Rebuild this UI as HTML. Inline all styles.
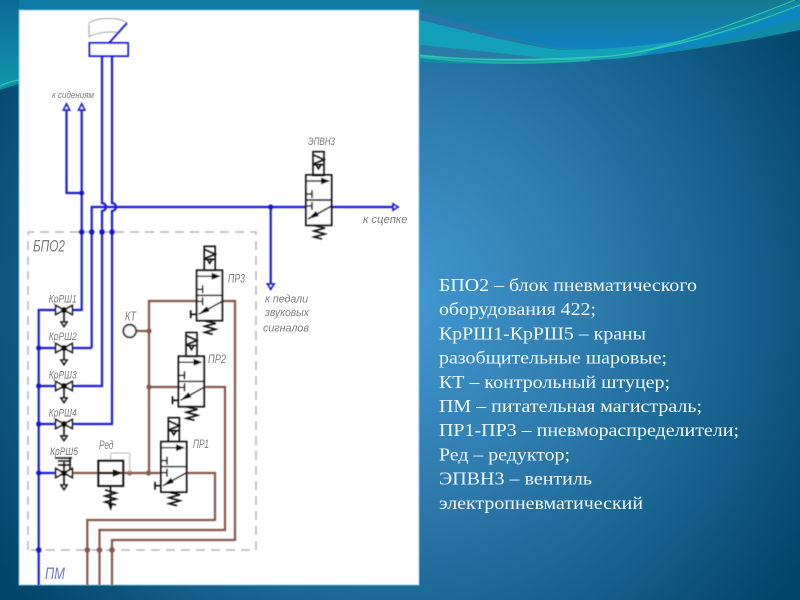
<!DOCTYPE html>
<html lang="ru"><head><meta charset="utf-8"><title>БПО2</title>
<style>
html,body{margin:0;padding:0;background:#0e5f88}
body{width:800px;height:600px;overflow:hidden}
svg{display:block}
text{font-family:"Liberation Sans","DejaVu Sans",sans-serif}
.l{font-style:italic;fill:#7c7c7c;font-size:11px}
.t{font-family:"Liberation Serif","Noto Serif CJK SC",serif;font-size:18px;fill:#f2f8fb}
</style></head><body>
<svg width="800" height="600" viewBox="0 0 800 600" xmlns="http://www.w3.org/2000/svg">
<defs>
<radialGradient id="bg" gradientUnits="userSpaceOnUse" cx="400" cy="300" r="480">
<stop offset="0" stop-color="#4299d2"/><stop offset=".35" stop-color="#327fb2"/><stop offset=".7" stop-color="#16628f"/><stop offset="1" stop-color="#03456a"/>
</radialGradient>
<linearGradient id="top" x1="0" y1="0" x2="0" y2="1"><stop offset="0" stop-color="#17798f"/><stop offset="1" stop-color="#0f80c0"/></linearGradient>
<linearGradient id="ls" x1="0" y1="0" x2="0" y2="1"><stop offset="0" stop-color="#0c6a94"/><stop offset="1" stop-color="#1196ab"/></linearGradient>
<filter id="b" x="-5%" y="-5%" width="110%" height="110%"><feGaussianBlur stdDeviation="0.4"/></filter>
<filter id="b2" x="-5%" y="-5%" width="110%" height="110%"><feGaussianBlur stdDeviation="0.3"/></filter>
<g id="sol" fill="none" stroke="#111" stroke-width="1.600">
<rect x="0" y="0" width="11" height="24"/><path d="M0 13H11M0 3 L11 8 L1 12 M3 13 L5.500 17 L8 13Z"/>
</g>
<g id="v" fill="none" stroke="#111">
<rect x="0" y="0" width="25.600" height="50.300" fill="#fff" stroke-width="1.900"/>
<path d="M0 25H25.600" stroke-width="1.700"/>
<path d="M0 6H23" stroke-width="1.500"/><path d="M24 6L15 2.500V9.500Z" fill="#111" stroke="none"/>
<path d="M0 19H6M6 15V23M0 31H6M6 27V35" stroke-width="1.600"/>
<path d="M25.600 31L2 44" stroke-width="1.600"/><path d="M2 44L10 36L13 41Z" fill="#111" stroke="none"/>
<path d="M8 50.500L19 53L8 56L19 59L8 62L16 64" stroke-width="1.600"/>
</g>
<g id="t"><path d="M-6 44H0M-6 40V48" fill="none" stroke="#111" stroke-width="1.700"/></g>
<g id="bv" stroke="#111" stroke-width="1.600" fill="#fff">
<path d="M0 0V12" fill="none"/><path d="M-3 12H3L0 16.500Z"/>
<path d="M-8.300 -4.500V4.500L0 0ZM8.300 -4.500V4.500L0 0Z"/><circle r="2" fill="#111"/>
</g>
</defs>

<rect width="800" height="600" fill="url(#bg)"/>
<g>
<path d="M0 90C60 68 250 52 420 62C520 68 650 62 800 30V0H0Z" fill="#118aa6"/>
<path d="M0 0H420V60H0Z" fill="#0f7ba4"/>
<path d="M0 0H19V82L0 88Z" fill="url(#ls)"/>
<path d="M0 86C6 83 13 81 19 80" stroke="#2fc4b0" stroke-width="1.200" fill="none"/>
<path d="M420 0H800L700 36C640 50 600 50 560 48C510 40 470 25 420 12Z" fill="url(#top)"/>
<path d="M420 12C470 25 510 40 560 50C510 43 470 32 420 20Z" fill="#2a74a6"/>
<path d="M420 20C470 32 510 43 560 50C610 50 650 45 700 38L800 8V18C740 35 680 48 640 56C600 62 520 64 420 46Z" fill="#14a0b9"/>
<path d="M660 47C710 40 760 22 800 6V18C740 36 690 50 640 56Z" fill="#0e86c0"/>
<path d="M420 45C470 50 520 55 560 60L520 60C480 59 450 57 420 55Z" fill="#2a7ca8"/>
<path d="M420 55C480 62 560 62 620 55C670 48 740 22 795 0" stroke="#2bc4ae" stroke-width="1.200" fill="none"/>
<path d="M420 56C480 61 540 60 610 56C670 50 750 25 800 5" stroke="#35c9b0" stroke-width="1" fill="none"/>
<path d="M420 57C470 63 520 65 590 60" stroke="#1fb0ae" stroke-width="2" fill="none"/>
</g>

<rect x="19" y="10" width="400" height="575" fill="#fff" stroke="#7cc3dc" stroke-width="1"/>

<g filter="url(#b)">
<!-- gauge -->
<path d="M89 23C97 17 120 17 127 23M89 24V37M89 37C96 32 114 31 120 33" fill="none" stroke="#a8a8a8" stroke-width="1.100"/>
<rect x="89.500" y="43" width="38.500" height="13" fill="#fff" stroke="#1e1ed4" stroke-width="2"/>
<path d="M109 43L127 23" stroke="#1e1ed4" stroke-width="1.900"/>

<!-- dashed box -->
<path d="M28 550V232H256V550H28" fill="none" stroke="#b4b4b4" stroke-width="1.500" stroke-dasharray="9 6"/>

<!-- brown -->
<g fill="none" stroke="#85594a" stroke-width="2.200">
<path d="M72 473H215V520H87.300V585"/>
<path d="M149 473V301H235V540H112V585"/>
<path d="M149 387H225V530H99.500V585"/>
<path d="M136 331H149"/>
</g>
<g fill="#85594a">
<circle cx="149" cy="331" r="2.600"/><circle cx="149" cy="387" r="2.600"/><circle cx="148.500" cy="473" r="2.600"/><circle cx="129.700" cy="473" r="2.400"/>
<circle cx="87.300" cy="550" r="2.800"/><circle cx="99.500" cy="550" r="2.800"/><circle cx="112" cy="550" r="2.800"/>
</g>
<path d="M129.700 473V453H110.700V461" fill="none" stroke="#c4b8ae" stroke-width="1.100"/>

<!-- blue -->
<g fill="none" stroke="#1e1ed4" stroke-width="2.200">
<path d="M66.500 108V193H81.700"/>
<path d="M81.700 108V310H72"/>
<path d="M91.700 348V207H393"/>
<path d="M102 56V203a4 4 0 0 1 0 8V386H72"/>
<path d="M112 56V203a4 4 0 0 1 0 8V424H72"/>
<path d="M91.700 348H72"/>
<path d="M270.700 207V290"/>
<path d="M38.700 585V310H56M38.700 348H56M38.700 386H56M38.700 424H56M38.700 473H56"/>
</g>
<g fill="#fff" stroke="#1e1ed4" stroke-width="1.800">
<path d="M66.500 104L63.500 110H69.500Z"/><path d="M81.700 104L78.700 110H84.700Z"/>
<path d="M393 204L398 207L393 210Z"/><path d="M267.500 284H274L270.700 289Z"/>
</g>
<g fill="#1818cc">
<circle cx="81.700" cy="193" r="2.500"/><circle cx="270.700" cy="207" r="2.600"/>
<circle cx="81.700" cy="232" r="2.800"/><circle cx="91.700" cy="232" r="2.800"/><circle cx="102" cy="232" r="2.800"/><circle cx="112" cy="232" r="2.800"/>
<circle cx="38.700" cy="348" r="2.600"/><circle cx="38.700" cy="386" r="2.600"/><circle cx="38.700" cy="424" r="2.600"/><circle cx="38.700" cy="473" r="2.600"/><circle cx="38.700" cy="550" r="2.800"/>
</g>

<!-- КТ -->
<circle cx="129.700" cy="331" r="6.300" fill="#fff" stroke="#333" stroke-width="1.800"/>

<!-- ball valves -->
<use href="#bv" x="64" y="310"/><use href="#bv" x="64" y="348"/><use href="#bv" x="64" y="386"/><use href="#bv" x="64" y="424"/><use href="#bv" x="64" y="473"/>
<path d="M55 458L72 458M58 461L71 461M58 465L71 465M64 462V470M70 457V470" fill="none" stroke="#111" stroke-width="1.600"/>

<!-- valves -->
<use href="#v" x="306" y="175"/><use href="#sol" x="313" y="151.700"/>
<use href="#v" x="196.700" y="270.300"/><use href="#t" x="196.700" y="270.300"/><use href="#sol" x="204.200" y="246.300"/>
<use href="#v" x="178.500" y="356.300"/><use href="#t" x="178.500" y="356.300"/><use href="#sol" x="186" y="332.500"/>
<use href="#v" x="161" y="441.700"/><use href="#t" x="161" y="441.700"/><use href="#sol" x="168.300" y="417.700"/>

<!-- Ред -->
<rect x="98.300" y="460.700" width="25" height="25.300" fill="none" stroke="#111" stroke-width="1.900"/>
<path d="M98.300 473H121" stroke="#111" stroke-width="1.500"/><path d="M122 473L113 469.500V476.500Z" fill="#111"/>
<path d="M110.500 486V503M105 490L116 493L105 496L116 499L105 502L116 505" fill="none" stroke="#111" stroke-width="1.600"/>
<path d="M108 503H113L110.700 511Z" fill="#111"/>
</g>

<g filter="url(#b2)">
<text class="l" x="52" y="98" style="font-size:9.500px" textLength="42" lengthAdjust="spacingAndGlyphs">к сидениям</text>
<text class="l" x="308" y="145" textLength="27" lengthAdjust="spacingAndGlyphs">ЭПВН3</text>
<text class="l" x="363" y="223" textLength="44.500" lengthAdjust="spacingAndGlyphs">к сцепке</text>
<text class="l" x="265" y="302.500" textLength="43" lengthAdjust="spacingAndGlyphs">к педали</text>
<text class="l" x="265" y="316" textLength="44" lengthAdjust="spacingAndGlyphs">звуковых</text>
<text class="l" x="263" y="331.500" textLength="46" lengthAdjust="spacingAndGlyphs">сигналов</text>
<text class="l" x="228" y="282.500" style="font-size:12px" textLength="17" lengthAdjust="spacingAndGlyphs">ПР3</text>
<text class="l" x="208" y="363" style="font-size:12px" textLength="18" lengthAdjust="spacingAndGlyphs">ПР2</text>
<text class="l" x="193" y="448" style="font-size:12px" textLength="16" lengthAdjust="spacingAndGlyphs">ПР1</text>
<text class="l" x="33" y="251.500" style="font-size:17px" textLength="32" lengthAdjust="spacingAndGlyphs">БПО2</text>
<text class="l" x="48.700" y="302.500" textLength="28" lengthAdjust="spacingAndGlyphs">КрРШ1</text>
<text class="l" x="48.700" y="340" textLength="28" lengthAdjust="spacingAndGlyphs">КрРШ2</text>
<text class="l" x="48.700" y="378.500" textLength="28" lengthAdjust="spacingAndGlyphs">КрРШ3</text>
<text class="l" x="48.700" y="416.500" textLength="28" lengthAdjust="spacingAndGlyphs">КрРШ4</text>
<text class="l" x="50" y="455" textLength="28" lengthAdjust="spacingAndGlyphs">КрРШ5</text>
<text class="l" x="125" y="320.500" style="font-size:13px" textLength="11" lengthAdjust="spacingAndGlyphs">КТ</text>
<text class="l" x="99" y="449" style="font-size:12px" textLength="14.500" lengthAdjust="spacingAndGlyphs">Ред</text>
<text class="l" x="45" y="579" style="font-size:17px;fill:#6f7cc9" textLength="20" lengthAdjust="spacingAndGlyphs">ПМ</text>
</g>

<g filter="url(#b2)">
<text class="t" x="439" y="291" textLength="258" lengthAdjust="spacingAndGlyphs">БПО2 – блок пневматического</text>
<text class="t" x="439" y="315.200" textLength="157" lengthAdjust="spacingAndGlyphs">оборудования 422;</text>
<text class="t" x="439" y="339.400" textLength="207" lengthAdjust="spacingAndGlyphs">КрРШ1-КрРШ5 – краны</text>
<text class="t" x="439" y="363.600" textLength="228" lengthAdjust="spacingAndGlyphs">разобщительные шаровые;</text>
<text class="t" x="439" y="387.800" textLength="231" lengthAdjust="spacingAndGlyphs">КТ – контрольный штуцер;</text>
<text class="t" x="439" y="412" textLength="263" lengthAdjust="spacingAndGlyphs">ПМ – питательная магистраль;</text>
<text class="t" x="439" y="436.200" textLength="300" lengthAdjust="spacingAndGlyphs">ПР1-ПР3 – пневмораспределители;</text>
<text class="t" x="439" y="460.400" textLength="131" lengthAdjust="spacingAndGlyphs">Ред – редуктор;</text>
<text class="t" x="439" y="484.600" textLength="153" lengthAdjust="spacingAndGlyphs">ЭПВН3 – вентиль</text>
<text class="t" x="439" y="508.800" textLength="204" lengthAdjust="spacingAndGlyphs">электропневматический</text>
</g>
</svg>
</body></html>
